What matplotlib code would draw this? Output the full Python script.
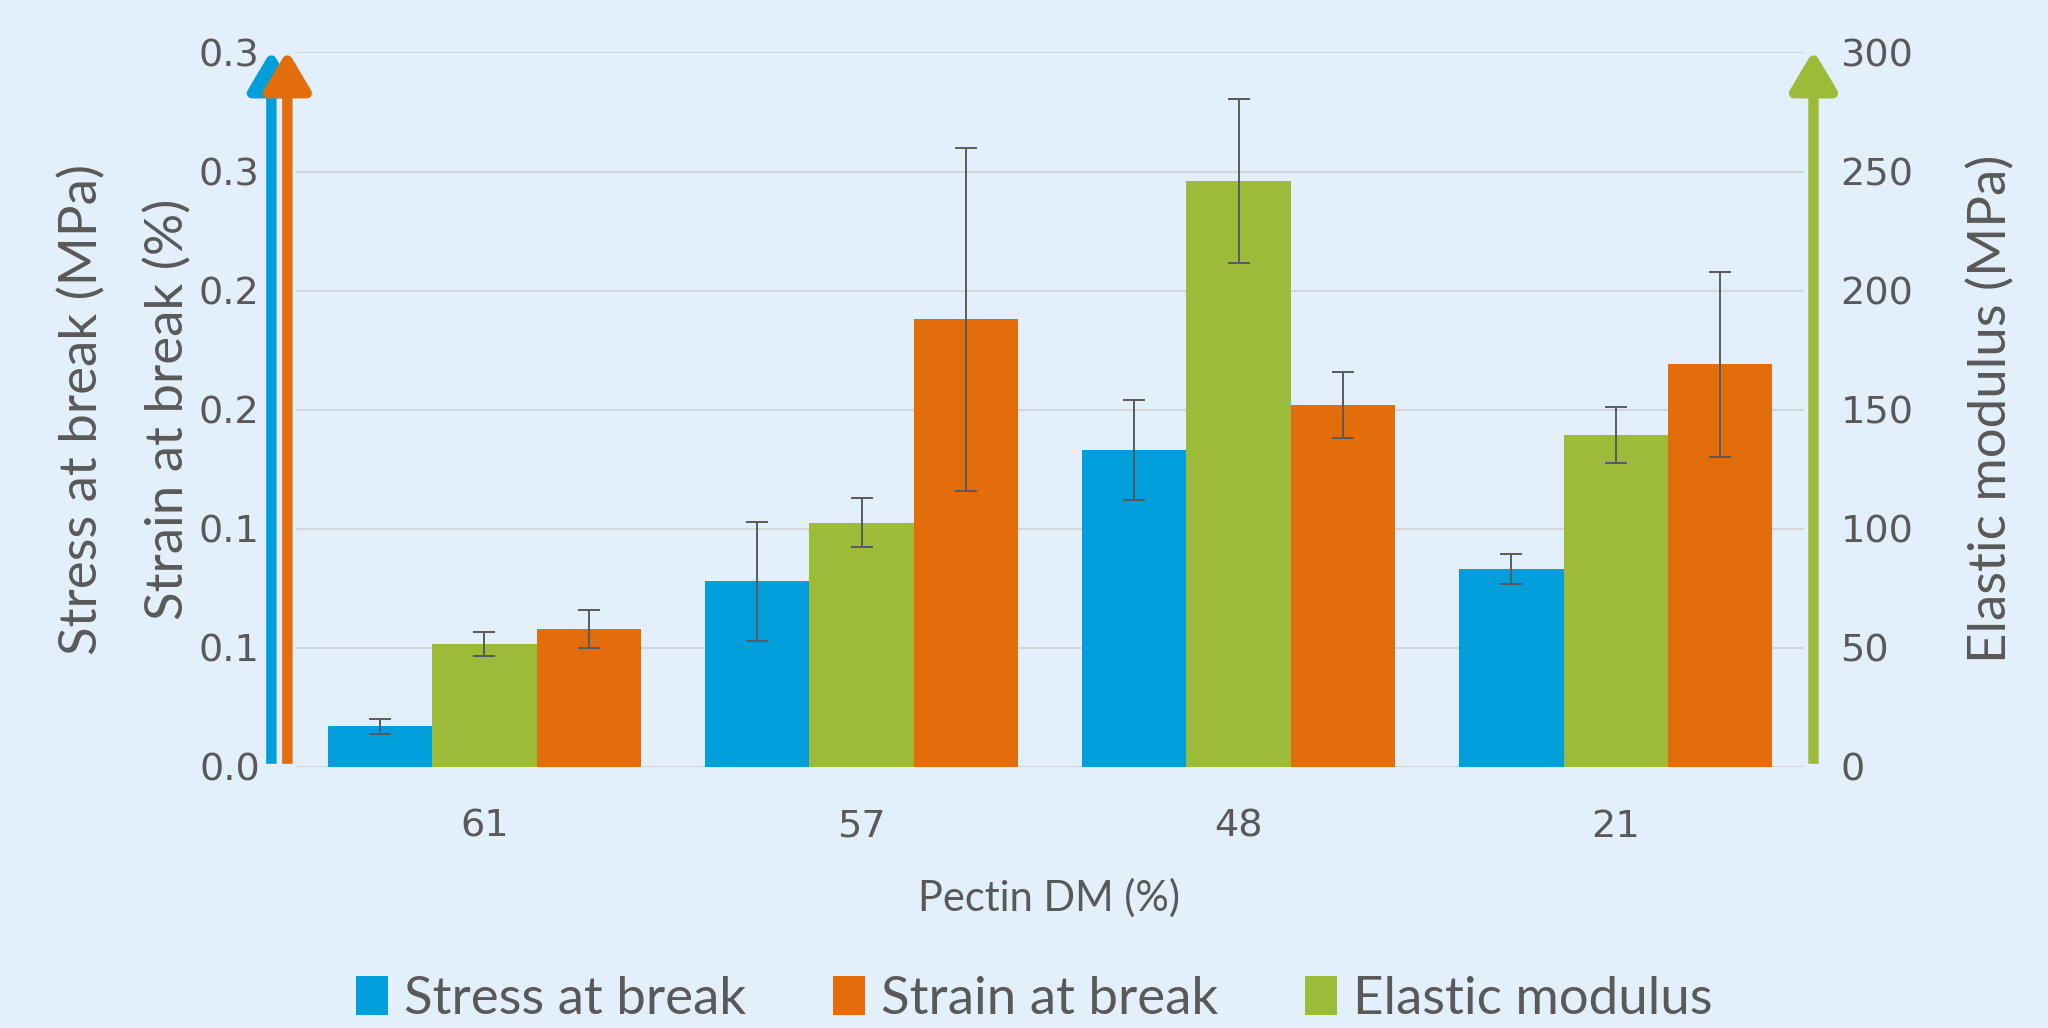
import matplotlib.pyplot as plt
import numpy as np

# data
categories = ['61', '57', '48', '21']
stress = [0.017, 0.078, 0.133, 0.083]
stress_err = [0.0033, 0.025, 0.021, 0.0063]
strain = [0.058, 0.188, 0.152, 0.169]
strain_err = [0.008, 0.072, 0.014, 0.039]
modulus = [51.6, 102.6, 246.0, 139.3]
modulus_err = [4.9, 10.4, 34.5, 11.8]

left_ticks = [0, 0.05, 0.10, 0.15, 0.20, 0.25, 0.30]
left_labels = ['0.0', '0.1', '0.1', '0.2', '0.2', '0.3', '0.3']
right_ticks = [0, 50, 100, 150, 200, 250, 300]

bg = '#E3F0FC'
c_blue = '#009FDB'
c_orange = '#E36C0B'
c_green = '#9BBB39'
txt = '#595959'
narrow = ['Liberation Sans Narrow', 'Lato', 'DejaVu Sans']

fig = plt.figure(figsize=(20.48, 10.28), dpi=100, facecolor=bg)
ax = fig.add_axes([0.1445, 0.254, 0.7365, 0.695])
ax.set_facecolor(bg)
ax2 = ax.twinx()

x = np.arange(len(categories))
w = 0.277
ek = dict(ecolor='#5a5a5a', elinewidth=1.4, capsize=8, capthick=1.4)

b1 = ax.bar(x - w, stress, w, yerr=stress_err, color=c_blue, error_kw=ek, zorder=3)
b3 = ax.bar(x + w, strain, w, yerr=strain_err, color=c_orange, error_kw=ek, zorder=3)
b2 = ax2.bar(x, modulus, w, yerr=modulus_err, color=c_green, error_kw=ek, zorder=3)

ax.set_xlim(-0.5, len(categories) - 0.5)
ax.set_ylim(0, 0.3)
ax2.set_ylim(0, 300)
ax.set_yticks(left_ticks)
ax.set_yticklabels(left_labels)
ax2.set_yticks(right_ticks)
ax.set_xticks(x)
ax.set_xticklabels(categories)

ax.grid(axis='y', color='#D2D5D9', lw=1.5, zorder=0)
ax.set_axisbelow(True)
for a in (ax, ax2):
    for s in a.spines.values():
        s.set_visible(False)
ax.tick_params(axis='y', length=0, pad=26, labelsize=27.5, labelcolor=txt)
ax.tick_params(axis='x', length=0, pad=30, labelsize=27.5, labelcolor=txt)
ax2.tick_params(axis='y', length=0, pad=26, labelsize=27.5, labelcolor=txt)


# axis arrows
def arrow(xf, col):
    ax.annotate('', xy=(xf, 0.951), xytext=(xf, 0.257),
                xycoords='figure fraction', textcoords='figure fraction',
                arrowprops=dict(arrowstyle='-|>,head_length=0.42,head_width=0.25',
                                mutation_scale=56, lw=7.5, color=col,
                                shrinkA=0, shrinkB=0, capstyle='butt'),
                annotation_clip=False)


arrow(0.1325, c_blue)
arrow(0.1403, c_orange)
arrow(0.8855, c_green)

fig.text(0.040, 0.602, 'Stress at break (MPa)', rotation=90, ha='center', va='center',
         fontsize=38, color=txt, family=narrow)
fig.text(0.082, 0.602, 'Strain at break (%)', rotation=90, ha='center', va='center',
         fontsize=38, color=txt, family=narrow)
fig.text(0.972, 0.602, 'Elastic modulus (MPa)', rotation=90, ha='center', va='center',
         fontsize=38, color=txt, family=narrow)
fig.text(0.512, 0.126, 'Pectin DM (%)', ha='center', va='center',
         fontsize=30, color=txt, family=narrow)

leg = fig.legend([b1, b3, b2], ['Stress at break', 'Strain at break', 'Elastic modulus'],
                 loc='center', bbox_to_anchor=(0.505, 0.028), ncol=3, frameon=False,
                 prop={'family': narrow, 'size': 38}, labelcolor=txt,
                 handlelength=0.6, handleheight=0.75, handletextpad=0.3, columnspacing=1.65)

fig.savefig('out.png', dpi=100, facecolor=bg)
